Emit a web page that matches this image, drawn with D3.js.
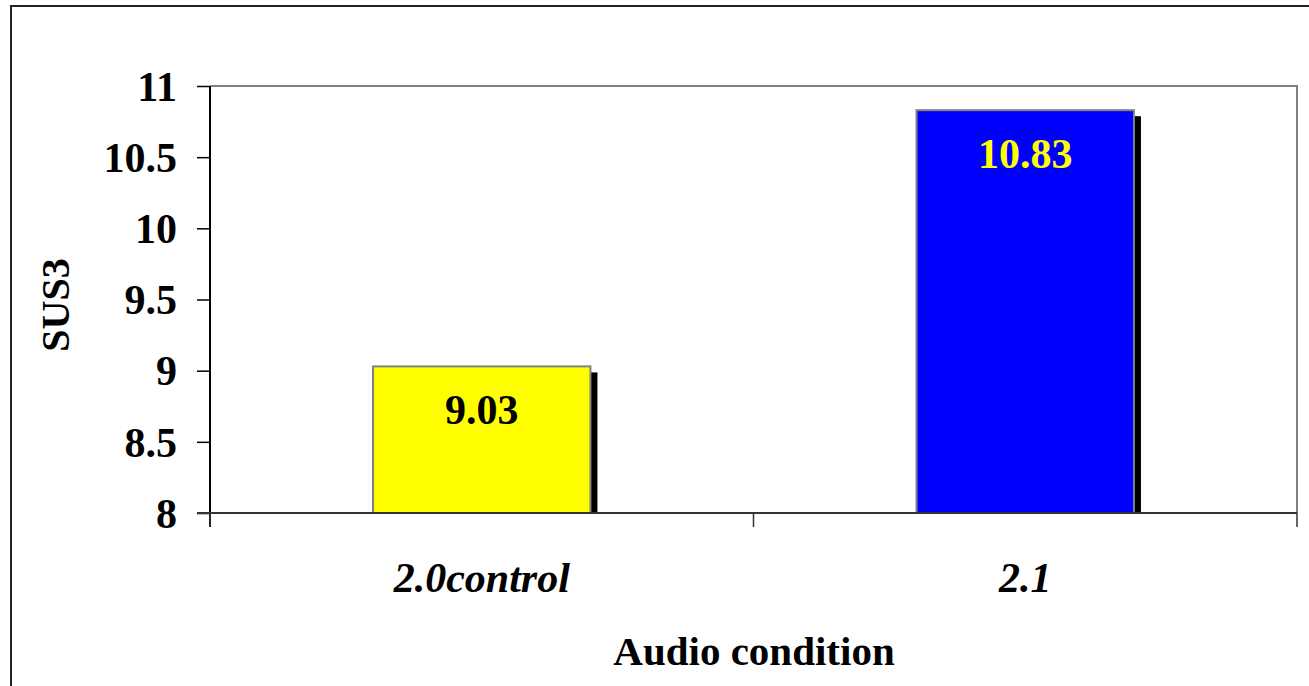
<!DOCTYPE html>
<html><head><meta charset="utf-8">
<script src="https://cdn.jsdelivr.net/npm/d3@7"></script>
<style>
html,body{margin:0;padding:0;background:#fff;overflow:hidden}
text{font-family:"Liberation Serif","Times New Roman",serif;font-weight:bold}
</style></head>
<body>
<svg id="chart" width="1309" height="686"></svg>
<script>
const categories = ["2.0control", "2.1"];
const values = [9.03, 10.83];
const barColors = ["#FFFF00", "#0000FF"];
const labelColors = ["#000000", "#FFFF00"];
const yTicks = [8, 8.5, 9, 9.5, 10, 10.5, 11];
const yTitle = "SUS3";
const xTitle = "Audio condition";

(function () {
const svg = d3.select("#chart");
const pLeft = 210, pRight = 1297, pTop = 86, pBottom = 513;

// outer frame
svg.append("rect").attr("x", 11).attr("y", 6).attr("width", 1320).attr("height", 700)
  .attr("fill", "none").attr("stroke", "#222").attr("stroke-width", 2);

const x = d3.scaleBand().domain(categories).range([pLeft, pRight]).padding(0);
const y = d3.scaleLinear().domain([8, 11]).range([pBottom, pTop]);

// plot area border (gray top & right)
svg.append("path").attr("d", `M${pLeft},${pTop}H${pRight}V${pBottom}`)
  .attr("fill", "none").attr("stroke", "#808080").attr("stroke-width", 2);

const bw = x.bandwidth() * 0.4;
const g = svg.append("g");
const bars = g.selectAll("g.bar").data(categories).join("g").attr("class", "bar");
// shadows
bars.append("rect")
  .attr("x", d => x(d) + x.bandwidth()/2 - bw/2 + 7)
  .attr("y", (d,i) => y(values[i]) + 6)
  .attr("width", bw)
  .attr("height", (d,i) => pBottom - y(values[i]) - 6)
  .attr("fill", "#000");
bars.append("rect")
  .attr("x", d => x(d) + x.bandwidth()/2 - bw/2)
  .attr("y", (d,i) => y(values[i]))
  .attr("width", bw)
  .attr("height", (d,i) => pBottom - y(values[i]))
  .attr("fill", (d,i) => barColors[i])
  .attr("stroke", "#808080").attr("stroke-width", 2);
bars.append("text")
  .attr("x", d => x(d) + x.bandwidth()/2)
  .attr("y", (d,i) => y(values[i]) + 58)
  .attr("text-anchor", "middle")
  .attr("font-size", 42)
  .attr("fill", (d,i) => labelColors[i])
  .text((d,i) => values[i].toFixed(2));

// y axis
const yAxis = svg.append("g").attr("transform", `translate(${pLeft},0)`)
  .call(d3.axisLeft(y).tickValues(yTicks).tickSize(13).tickPadding(20)
    .tickFormat(d => d3.format("")(d)));
yAxis.select(".domain").attr("stroke", "#000").attr("stroke-width", 2)
  .attr("d", `M0,${pTop}V${pBottom + 14}`);
yAxis.selectAll(".tick line").attr("stroke", "#000").attr("stroke-width", 1.5);
yAxis.selectAll(".tick text").attr("font-size", 42).attr("fill", "#000")
  .attr("dy", "0.34em").attr("font-family", "Liberation Serif, Times New Roman, serif")
  .attr("font-weight", "bold");

// x axis
const xAxis = svg.append("g").attr("transform", `translate(0,${pBottom})`)
  .call(d3.axisBottom(x).tickSize(0).tickPadding(0).tickFormat(""));
xAxis.select(".domain").attr("stroke", "#333").attr("stroke-width", 2)
  .attr("d", `M${pLeft - 13},0H${pRight}`);
const xTickPos = [pLeft, x(categories[1]), pRight];
xAxis.selectAll("line.sep").data(xTickPos).join("line").attr("class","sep")
  .attr("x1", d => d).attr("x2", d => d).attr("y1", 0).attr("y2", 14)
  .attr("stroke", "#333").attr("stroke-width", 1.5);
svg.selectAll("text.xl").data(categories).join("text").attr("class","xl")
  .attr("x", d => x(d) + x.bandwidth()/2)
  .attr("y", 592)
  .attr("text-anchor", "middle")
  .attr("font-size", 42)
  .attr("font-style", "italic")
  .text(d => d);

// titles
svg.append("text").attr("x", 754).attr("y", 665).attr("text-anchor", "middle")
  .attr("font-size", 41).text(xTitle);
svg.append("text").attr("transform", "translate(69,305) rotate(-90)")
  .attr("text-anchor", "middle").attr("font-size", 40).text(yTitle);
})();
</script>
</body></html>
